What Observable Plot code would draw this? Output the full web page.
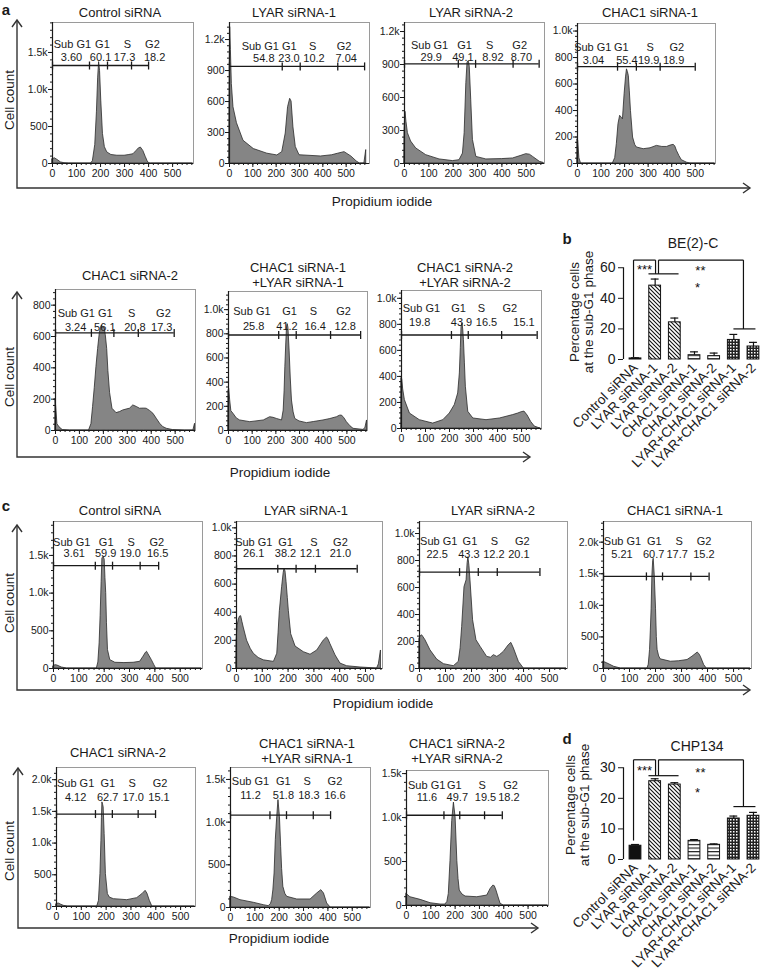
<!DOCTYPE html>
<html><head><meta charset="utf-8">
<script src="https://cdn.jsdelivr.net/npm/d3@7"></script>
<script src="https://cdn.jsdelivr.net/npm/@observablehq/plot@0.6"></script>
<style>
body{margin:0;background:#fff;}
#fig{position:relative;width:764px;height:976px;font-family:"Liberation Sans",Arial,Helvetica,sans-serif;color:#1a1a1a;overflow:hidden;background:#fff}
.t{position:absolute;white-space:nowrap;text-align:center}
</style></head><body><div id="fig"></div>
<script>
// ---------------- DATA ----------------
const phases = ["Sub G1", "G1", "S", "G2"];

// Panel a: BE(2)-C flow cytometry histograms  [propidium iodide, cell count]
const titlesA = ["Control siRNA", "LYAR siRNA-1", "LYAR siRNA-2", "CHAC1 siRNA-1", "CHAC1 siRNA-2",
  "CHAC1 siRNA-1\n+LYAR siRNA-1", "CHAC1 siRNA-2\n+LYAR siRNA-2"];
const histA1 = [[0,60],[10,70],[20,50],[35,15],[50,3],[70,0],[160,0],[168,30],[178,250],[185,700],[190,1150],[194,1370],[198,1250],[203,850],[210,400],[218,220],[228,150],[245,115],[270,105],[300,105],[320,115],[337,125],[350,170],[360,205],[368,215],[378,170],[388,90],[396,30],[402,3],[410,0],[585,0]];
const histA2 = [[0,700],[3,1320],[6,1100],[10,770],[17,545],[32,390],[60,220],[104,140],[162,95],[205,78],[226,110],[241,290],[251,545],[260,626],[266,600],[274,350],[284,160],[300,80],[392,68],[440,80],[464,94],[493,110],[522,68],[545,20],[559,0],[578,0],[586,130]];
const histA3 = [[0,300],[4,470],[8,380],[14,275],[27,200],[48,137],[89,76],[144,37],[199,22],[226,30],[240,90],[247,275],[254,730],[259,920],[264,930],[268,880],[274,580],[281,215],[295,60],[336,37],[400,40],[446,46],[480,70],[500,85],[515,80],[528,60],[556,15],[572,5]];
const histA4 = [[0,180],[3,170],[8,40],[15,0],[150,0],[160,40],[167,146],[174,297],[181,360],[188,345],[193,334],[200,523],[206,650],[210,711],[214,690],[218,660],[222,550],[227,397],[236,196],[245,140],[252,121],[281,108],[310,115],[337,133],[360,125],[380,125],[395,135],[408,141],[415,130],[422,96],[433,55],[443,25],[465,6],[480,0],[584,0]];
const histA5 = [[0,200],[3,150],[8,40],[17,20],[30,3],[60,0],[140,0],[150,40],[157,150],[164,270],[171,405],[178,520],[185,619],[190,655],[194,670],[200,655],[205,660],[210,610],[216,520],[221,380],[228,240],[238,139],[255,111],[270,118],[283,128],[300,135],[311,139],[325,160],[340,150],[353,139],[370,140],[381,139],[395,125],[409,107],[423,75],[437,43],[450,22],[465,11],[490,3],[540,0],[576,0],[583,43]];
const histA6 = [[0,330],[3,345],[7,250],[12,160],[21,138],[35,100],[49,83],[92,69],[149,83],[176,110],[190,105],[204,96],[226,83],[233,165],[237,330],[240,523],[244,720],[247,854],[250,880],[253,850],[258,661],[263,430],[268,248],[275,150],[282,96],[300,75],[331,61],[360,70],[401,83],[430,95],[458,110],[470,122],[479,124],[490,100],[500,69],[515,35],[528,14],[570,5],[578,20],[585,83]];
const histA7 = [[0,385],[3,380],[7,300],[14,218],[35,115],[76,64],[132,38],[174,64],[201,115],[222,180],[236,269],[243,423],[247,620],[250,782],[254,808],[257,760],[260,680],[264,500],[268,321],[278,128],[299,77],[354,64],[410,77],[465,103],[486,115],[500,125],[512,130],[525,100],[540,50],[555,15],[570,5],[580,0]];
const gateYA = [1324, 940, 906, 731, 623, 790, 718];
const gateCutsA = [[0,154,229,329,400],[0,226,303,464,579],[0,221,292,446,553],[0,170,250,351,500],[0,150,244,346,496],[0,212,286,431,558],[0,208,278,417,565]];
const pctA = [["3.60","60.1","17.3","18.2"],["54.8","23.0","10.2","7.04"],["29.9","49.1","8.92","8.70"],["3.04","55.4","19.9","18.9"],["3.24","56.1","20.8","17.3"],["25.8","41.2","16.4","12.8"],["19.8","43.9","16.5","15.1"]];
const phaseLabelXA = [[83,208,312,416],[132,256,356,491],[103,247,350,473],[65,186,309,422],[87,208,318,451],[99,258,359,486],[83,238,333,451]];
const pctValueXA = [[79,200,300,425],[147,255,362,500],[110,240,363,480],[68,210,302,408],[84,206,332,444],[106,247,366,493],[76,250,354,510]];
const yTicksA = [[0,500,1000,1500],[0,300,600,900,1200],[0,300,600,900,1200],[0,200,400,600,800,1000],[0,200,400,600,800],[0,200,400,600,800,1000],[0,200,400,600,800,1000]];

// Panel c: CHP134 flow cytometry histograms
const titlesC = ["Control siRNA", "LYAR siRNA-1", "LYAR siRNA-2", "CHAC1 siRNA-1", "CHAC1 siRNA-2",
  "CHAC1 siRNA-1\n+LYAR siRNA-1", "CHAC1 siRNA-2\n+LYAR siRNA-2"];
const histC1 = [[0,31],[8,44],[15,40],[33,13],[53,0],[171,0],[177,80],[182,333],[186,700],[190,1150],[193,1460],[198,1480],[202,1444],[205,1200],[208,1000],[211,600],[215,244],[224,111],[244,76],[280,72],[316,76],[342,89],[355,156],[365,210],[369,222],[375,187],[388,111],[398,44],[405,0],[585,0]];
const histC2 = [[0,198],[4,300],[9,349],[14,370],[18,372],[23,330],[28,291],[41,198],[55,140],[67,105],[86,75],[106,58],[145,47],[158,105],[163,250],[168,407],[177,581],[183,680],[186,709],[190,690],[194,616],[199,500],[203,407],[212,244],[229,156],[261,116],[287,98],[313,128],[338,198],[351,221],[357,205],[364,174],[384,93],[403,35],[429,16],[481,7],[545,0],[552,30],[560,128]];
const histC3 = [[0,222],[5,240],[10,246],[16,230],[23,209],[42,135],[68,66],[94,32],[132,17],[151,49],[158,150],[164,308],[173,603],[181,653],[185,780],[188,825],[192,760],[196,653],[206,357],[219,209],[235,160],[260,86],[275,80],[286,99],[299,86],[310,100],[324,123],[343,172],[353,190],[363,148],[382,49],[401,0],[565,0]];
const histC4 = [[0,107],[15,80],[41,27],[67,0],[169,0],[174,60],[179,295],[182,600],[185,937],[188,1473],[191,1700],[193,1737],[197,1473],[202,937],[205,500],[208,295],[214,190],[220,145],[259,107],[290,115],[323,134],[342,187],[362,252],[368,230],[374,187],[387,54],[397,0],[565,0]];
const histC5 = [[0,37],[9,47],[18,30],[29,11],[45,0],[164,0],[171,89],[177,510],[181,1037],[183,1400],[185,1642],[188,1600],[190,1563],[194,1142],[199,510],[207,195],[215,140],[231,116],[285,100],[325,132],[346,195],[359,247],[366,205],[376,89],[386,0],[558,0]];
const histC6 = [[0,125],[14,117],[41,86],[96,55],[137,27],[157,16],[166,40],[171,86],[176,200],[181,398],[186,789],[192,1063],[197,1258],[203,1063],[208,711],[212,450],[217,242],[225,160],[233,125],[274,94],[329,94],[356,164],[373,203],[384,164],[397,47],[411,0],[573,0]];
const histC7 = [[0,132],[16,94],[58,64],[99,26],[140,11],[160,11],[168,40],[174,132],[181,509],[188,962],[195,1170],[202,1000],[209,509],[214,300],[219,170],[230,125],[243,102],[291,94],[332,113],[346,189],[357,226],[363,220],[370,170],[380,80],[387,19],[400,0],[582,0]];
const gateYC = [1364, 709, 714, 1458, 1458, 1082, 1026];
const gateCutsC = [[0,165,233,342,415],[0,160,231,306,468],[0,154,226,299,463],[0,165,227,336,406],[0,157,225,329,399],[0,162,230,340,411],[0,154,219,321,394]];
const pctC = [["3.61","59.9","19.0","16.5"],["26.1","38.2","12.1","21.0"],["22.5","43.3","12.2","20.1"],["5.21","60.7","17.7","15.2"],["4.12","62.7","17.0","15.1"],["11.2","51.8","18.3","16.6"],["11.6","49.7","19.5","18.2"]];
const phaseLabelXC = [[72,208,307,408],[67,190,300,403],[74,194,288,395],[73,195,291,387],[77,207,305,417],[82,217,315,429],[83,197,311,428]];
const pctValueXC = [[82,206,303,411],[67,190,287,403],[68,190,286,382],[71,193,283,386],[77,206,309,413],[82,217,322,429],[84,209,325,421]];
const yTicksC = [[0,500,1000,1500],[0,200,400,600,800,1000],[0,200,400,600,800,1000],[0,500,1000,1500,2000],[0,500,1000,1500,2000],[0,500,1000,1500],[0,500,1000,1500]];

// Panels b & d: percentage of cells in sub-G1 phase
const barCategories = ["Control siRNA", "LYAR siRNA-1", "LYAR siRNA-2", "CHAC1 siRNA-1", "CHAC1 siRNA-2", "LYAR+CHAC1 siRNA-1", "LYAR+CHAC1 siRNA-2"];
const barPattern = ["solid", "diag", "diag", "horiz", "horiz", "dots", "dots"];
const subG1BE2C = [0.7, 48.3, 24.3, 2.8, 2.2, 12.8, 8.5];
const errBE2C = [0.4, 4.3, 2.8, 2.2, 2.0, 3.6, 2.7];
const subG1CHP134 = [4.5, 25.6, 24.5, 6.1, 4.8, 13.4, 14.3];
const errCHP134 = [0.4, 0.8, 0.6, 0.4, 0.3, 0.8, 1.1];
const yTicksBE2C = [0, 20, 40, 60];
const yTicksCHP134 = [0, 10, 20, 30];
// significance bracket levels (percentage units): top, control end, LYAR group, combo group, ***, **, *
const sigBE2C = {top: 65, ctrl: 1.6, lyar: 56, combo: 20, s3: 61.3, s2: 60.7, s1: 49.6};
const sigCHP134 = {top: 32.6, ctrl: 6.2, lyar: 27.4, combo: 17.3, s3: 30.3, s2: 29.7, s1: 23.1};

// ---------------- LAYOUT ----------------
const layoutA = [
  {frame:[52,22,193,163], xMax:587, yMax:1905, titleX:120, titleY:12, textDy:[18,31]},
  {frame:[229,22,369,163], xMax:600, yMax:1365, titleX:294, titleY:12, textDy:[20,32]},
  {frame:[404,22,544,163], xMax:575, yMax:1282, titleX:471, titleY:12, textDy:[19,31]},
  {frame:[577,23,715,163], xMax:586, yMax:1057, titleX:650, titleY:12, textDy:[20,33]},
  {frame:[55,289,195,430], xMax:585, yMax:900, titleX:130, titleY:275, textDy:[20,34]},
  {frame:[228,291,367,430], xMax:587, yMax:1150, titleX:298, titleY:274.5, textDy:[16,31]},
  {frame:[401,290,541,428], xMax:583, yMax:1060, titleX:465, titleY:274.5, textDy:[14,28]}
];
const layoutC = [
  {frame:[53,521,202,668], xMax:588, yMax:1950, titleX:120, titleY:510, textDy:[17,28]},
  {frame:[236,521,382,668], xMax:566, yMax:1045, titleX:306, titleY:510, textDy:[17,28]},
  {frame:[419,521,567,668], xMax:569, yMax:1089, titleX:493, titleY:510, textDy:[16,29]},
  {frame:[603,521,751,668], xMax:569, yMax:2327, titleX:675, titleY:510, textDy:[16,29]},
  {frame:[56,767,195,906], xMax:560, yMax:2192, titleX:118, titleY:752, textDy:[12,26]},
  {frame:[230,767,370,907], xMax:575, yMax:1640, titleX:307, titleY:751, textDy:[10,24]},
  {frame:[406,770,548,905], xMax:584, yMax:1535, titleX:457, titleY:751, textDy:[11,23]}
];

// ---------------- DRAWING ----------------
const FONT = '"Liberation Sans", Arial, Helvetica, sans-serif';
const INK = "#1a1a1a";
const fig = document.getElementById("fig");

function label(x, y, text, {size = 13, bold = false, rotate = 0, lh = 15} = {}) {
  const d = document.createElement("div");
  d.className = "t";
  d.style.left = x + "px"; d.style.top = y + "px";
  d.style.fontSize = size + "px"; d.style.lineHeight = lh + "px";
  if (bold) d.style.fontWeight = "bold";
  d.style.transform = `translate(-50%,-50%) rotate(${rotate}deg)`;
  text.split("\n").forEach((s, i) => { if (i) d.appendChild(document.createElement("br")); d.appendChild(document.createTextNode(s)); });
  fig.appendChild(d);
}
function place(svg, left, top) {
  svg.style.position = "absolute"; svg.style.left = left + "px"; svg.style.top = top + "px";
  svg.style.maxWidth = "none";
  fig.appendChild(svg);
}

// big L-shaped axes with arrow heads (decoration)
(function arrows() {
  const s = d3.create("svg").attr("width", 764).attr("height", 976)
    .style("position", "absolute").style("left", 0).style("top", 0);
  const g = s.append("g").attr("fill", "none").attr("stroke", "#333").attr("stroke-width", 1.4);
  [[17, 20, 188, 750], [17, 292, 457, 530], [17, 525, 690, 750], [18, 768, 928, 538]].forEach(([x, y0, y1, x1]) => {
    g.append("path").attr("d", `M${x},${y0}V${y1}H${x1}`);
    g.append("path").attr("d", `M${x - 5},${y0 + 7}L${x},${y0}L${x + 5},${y0 + 7}`);
    g.append("path").attr("d", `M${x1 - 7},${y1 - 5}L${x1},${y1}L${x1 - 7},${y1 + 5}`);
  });
  fig.appendChild(s.node());
})();

const vbar = {draw(ctx, size) { const r = Math.sqrt(size / Math.PI); ctx.moveTo(0, -r); ctx.lineTo(0, r); }};
const fmtK = d => d >= 1000 ? (d / 1000).toFixed(1) + "k" : String(d);

function histogram(data, title, gateY, cuts, pct, labelX, valueX, yTicks, lay) {
  const [L, T, R, B] = lay.frame;
  const mL = 30, mR = 3, mT = 3, mB = 18;
  const pts = data.map(([x, y]) => ({x, y}));
  const step = yTicks[1];
  const labs = phases.map((p, i) => ({x: labelX[i], t: p}));
  const vals = pct.map((v, i) => ({x: valueX[i], t: v}));
  const svg = Plot.plot({
    width: R - L + mL + mR, height: B - T + mT + mB,
    marginLeft: mL, marginRight: mR, marginTop: mT, marginBottom: mB,
    x: {domain: [0, lay.xMax]}, y: {domain: [0, lay.yMax]},
    style: {fontFamily: FONT, fontSize: "10.5px", color: INK, background: "none", overflow: "visible"},
    marks: [
      Plot.frame({stroke: "#9a9a9a", strokeWidth: 1}),
      Plot.areaY(pts, {x: "x", y: "y", fill: "#858585", stroke: "#2a2a2a", strokeWidth: 0.8}),
      Plot.ruleY([gateY], {x1: () => cuts[0], x2: () => cuts[cuts.length - 1], stroke: INK, strokeWidth: 1.3}),
      Plot.dot(cuts, {x: d => d, y: () => gateY, symbol: vbar, r: 4, fill: "none", stroke: INK, strokeWidth: 1.3}),
      Plot.text(labs, {x: "x", text: "t", frameAnchor: "top", dy: lay.textDy[0], fontSize: 11, fill: INK}),
      Plot.text(vals, {x: "x", text: "t", frameAnchor: "top", dy: lay.textDy[1], fontSize: 11, fill: INK}),
      Plot.axisY(d3.range(0, lay.yMax, step / 5), {tickSize: 2, tickFormat: () => "", label: null}),
      Plot.axisY(yTicks, {tickSize: 4, tickPadding: 1, tickFormat: fmtK, label: null}),
      Plot.axisX(d3.range(0, lay.xMax, 20), {tickSize: 2, tickFormat: () => "", label: null}),
      Plot.axisX(d3.range(0, 501, 100), {tickSize: 4, tickPadding: 2, label: null}),
      Plot.ruleX([0], {stroke: INK, strokeWidth: 1.2}),
      Plot.ruleY([0], {stroke: INK, strokeWidth: 1.2})
    ]
  });
  place(svg, L - mL, T - mT);
  label(lay.titleX, lay.titleY, title, {size: 13, lh: 15});
}

const histsA = [histA1, histA2, histA3, histA4, histA5, histA6, histA7];
const histsC = [histC1, histC2, histC3, histC4, histC5, histC6, histC7];
histsA.forEach((h, i) => histogram(h, titlesA[i], gateYA[i], gateCutsA[i], pctA[i], phaseLabelXA[i], pctValueXA[i], yTicksA[i], layoutA[i]));
histsC.forEach((h, i) => histogram(h, titlesC[i], gateYC[i], gateCutsC[i], pctC[i], phaseLabelXC[i], pctValueXC[i], yTicksC[i], layoutC[i]));

function barChart(id, values, errors, yTicks, sig, top, yTop) {
  const rows = barCategories.map((c, i) => ({i, v: values[i], e: errors[i], pat: barPattern[i]}));
  const yMaxAxis = yTicks[yTicks.length - 1];
  const segs = [
    {x1: -0.1, y1: sig.ctrl, x2: -0.1, y2: sig.top},
    {x1: -0.1, y1: sig.top, x2: 1.02, y2: sig.top},
    {x1: 1.02, y1: sig.top, x2: 1.02, y2: sig.lyar},
    {x1: 1.17, y1: sig.lyar, x2: 1.17, y2: sig.top},
    {x1: 1.17, y1: sig.top, x2: 5.49, y2: sig.top},
    {x1: 5.49, y1: sig.top, x2: 5.49, y2: sig.combo},
    {x1: 0.66, y1: sig.lyar, x2: 2.19, y2: sig.lyar},
    {x1: 4.98, y1: sig.combo, x2: 6.1, y2: sig.combo}
  ];
  const stars = [{x: 0.46, y: sig.s3, t: "***"}, {x: 3.3, y: sig.s2, t: "**"}, {x: 3.15, y: sig.s1, t: "*"}];
  const height = 976 - top > 241 ? 241 : 976 - top;
  const svg = Plot.plot({
    width: 244, height, marginLeft: 103, marginRight: 1, marginTop: 20, marginBottom: height - 124,
    x: {domain: [-0.61, 6.51]}, y: {domain: [0, yTop]},
    style: {fontFamily: FONT, color: INK, background: "none", overflow: "visible"},
    marks: [
      ...["solid", "diag", "horiz", "dots"].map(p => Plot.rectY(rows.filter(r => r.pat === p),
        {x1: d => d.i - 0.3, x2: d => d.i + 0.3, y1: () => 0, y2: "v", fill: `url(#${id}-${p})`, stroke: "#111", strokeWidth: 1})),
      Plot.ruleX(rows, {x: "i", y1: "v", y2: d => d.v + d.e, stroke: "#111", strokeWidth: 1.2}),
      Plot.ruleY(rows, {y: d => d.v + d.e, x1: d => d.i - 0.2, x2: d => d.i + 0.2, stroke: "#111", strokeWidth: 1.2}),
      Plot.ruleX([-0.61], {y1: () => 0, y2: () => yMaxAxis, stroke: "#111", strokeWidth: 1.2}),
      Plot.axisY(yTicks, {tickSize: 5, tickPadding: 3, fontSize: 14, label: null}),
      Plot.axisX(d3.range(barCategories.length), {tickSize: 0, tickPadding: 6, tickRotate: -45, fontSize: 13.5, tickFormat: i => barCategories[i], label: null}),
      Plot.link(segs, {x1: "x1", y1: "y1", x2: "x2", y2: "y2", stroke: "#111", strokeWidth: 1.2}),
      Plot.text(stars, {x: "x", y: "y", text: "t", fontSize: 13, dy: 4, fill: "#111"})
    ]
  });
  const defs = d3.select(svg).insert("defs", ":first-child");
  const p1 = defs.append("pattern").attr("id", `${id}-solid`).attr("patternUnits", "userSpaceOnUse").attr("width", 4).attr("height", 4);
  p1.append("rect").attr("width", 4).attr("height", 4).attr("fill", "#111");
  const p2 = defs.append("pattern").attr("id", `${id}-diag`).attr("patternUnits", "userSpaceOnUse").attr("width", 4).attr("height", 4);
  p2.append("rect").attr("width", 4).attr("height", 4).attr("fill", "#fff");
  p2.append("path").attr("d", "M-1,-1L5,5M-1,3L1,5M3,-1L5,1").attr("stroke", "#111").attr("stroke-width", 1.1);
  const p3 = defs.append("pattern").attr("id", `${id}-horiz`).attr("patternUnits", "userSpaceOnUse").attr("width", 4).attr("height", 3.6);
  p3.append("rect").attr("width", 4).attr("height", 3.6).attr("fill", "#fff");
  p3.append("path").attr("d", "M0,1.5H4").attr("stroke", "#111").attr("stroke-width", 1.1);
  const p4 = defs.append("pattern").attr("id", `${id}-dots`).attr("patternUnits", "userSpaceOnUse").attr("width", 3).attr("height", 3);
  p4.append("rect").attr("width", 3).attr("height", 3).attr("fill", "#222");
  p4.append("rect").attr("width", 1.5).attr("height", 1.5).attr("fill", "#fff");
  place(svg, 520, top);
}
barChart("b", subG1BE2C, errBE2C, yTicksBE2C, sigBE2C, 235, 68);
barChart("d", subG1CHP134, errCHP134, yTicksCHP134, sigCHP134, 735, 34);

// text labels
label(6, 9, "a", {size: 15, bold: true});
label(567, 238, "b", {size: 15, bold: true});
label(6, 505, "c", {size: 15, bold: true});
label(567, 738, "d", {size: 15, bold: true});
label(693, 243, "BE(2)-C", {size: 14});
label(697, 746, "CHP134", {size: 14});
label(582, 312, "Percentage cells\nat the sub-G1 phase", {size: 13.5, rotate: -90, lh: 14});
label(578, 805, "Percentage cells\nat the sub-G1 phase", {size: 13.5, rotate: -90, lh: 14});
[[100], [377], [603], [851]].forEach(([y]) => label(9, y, "Cell count", {size: 13.5, rotate: -90}));
[[382, 201], [280, 472], [383, 703], [279, 938]].forEach(([x, y]) => label(x, y, "Propidium iodide", {size: 13.5}));
</script></body></html>
